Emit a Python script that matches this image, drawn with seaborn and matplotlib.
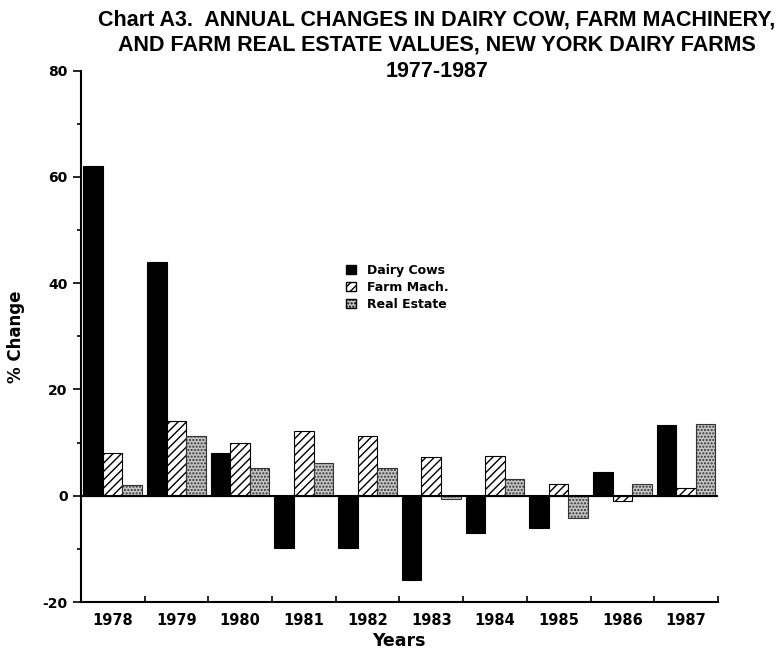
"""Chart A3 — variaciones anuales de vacas, maquinaria y bienes raíces (NY, 1977-1987)."""
import matplotlib
matplotlib.use("Agg")
import matplotlib.pyplot as plt
import numpy as np
import pandas as pd
import seaborn as sns
from matplotlib.patches import Patch

years = ["1978", "1979", "1980", "1981", "1982", "1983", "1984", "1985", "1986", "1987"]
dairy_cows = [62.0, 44.0, 8.0, -9.8, -9.8, -15.9, -7.0, -6.1, 4.5, 13.4]
farm_mach = [8.0, 14.0, 9.9, 12.2, 11.2, 7.2, 7.4, 2.2, -0.9, 1.4]
real_estate = [2.0, 11.2, 5.3, 6.1, 5.3, -0.6, 3.2, -4.2, 2.3, 13.5]
series = ["Dairy Cows", "Farm Mach.", "Real Estate"]

df = pd.DataFrame({
    "year": years * 3,
    "series": np.repeat(series, len(years)),
    "value": dairy_cows + farm_mach + real_estate,
})

sns.set_style("ticks")
plt.rcParams["font.family"] = ["DejaVu Sans"]
plt.rcParams["hatch.linewidth"] = 1.0
plt.rcParams["axes.unicode_minus"] = False
for k in ("text.color", "axes.labelcolor", "xtick.color", "ytick.color", "axes.edgecolor"):
    plt.rcParams[k] = "black"

fig = plt.figure(figsize=(7.77, 6.53), dpi=100)
ax = fig.add_axes([0.104, 0.078, 0.82, 0.814])

colors = {"Dairy Cows": "black", "Farm Mach.": "white", "Real Estate": "#c4c4c4"}
hatches = {"Dairy Cows": "", "Farm Mach.": "////", "Real Estate": "....."}
sns.barplot(data=df, x="year", y="value", hue="series", hue_order=series,
            palette=colors, width=0.92, ax=ax, legend=False,
            edgecolor="black", linewidth=0.8, saturation=1)
for cont, s in zip(ax.containers, series):
    for bar in cont:
        bar.set_hatch(hatches[s])
        if s == "Real Estate":
            bar.set_edgecolor("#333333")

ax.axhline(0, color="black", lw=1.5, zorder=5)
ax.set_xlim(-0.5, 9.5); ax.set_ylim(-20, 80)
ax.set_yticks(range(-20, 81, 20))
ax.set_yticks(range(-10, 80, 20), minor=True)
ax.set_xticks(np.arange(-0.5, 10, 1), minor=True)
ax.tick_params(axis="x", which="major", length=0, pad=8)
ax.tick_params(axis="x", which="minor", direction="in", length=4, width=1.2)
ax.tick_params(axis="y", which="major", length=6, width=1.2)
ax.tick_params(axis="y", which="minor", length=3, width=1.2)
for lab in ax.get_xticklabels():
    lab.set_fontweight("bold"); lab.set_fontsize(10.5)
for lab in ax.get_yticklabels():
    lab.set_fontweight("bold"); lab.set_fontsize(10)
sns.despine(ax=ax)
for sp in ("left", "bottom"):
    ax.spines[sp].set_linewidth(1.5)

ax.set_xlabel("Years", fontsize=12.5, fontweight="bold", labelpad=3)
ax.set_ylabel("% Change", fontsize=12, fontweight="bold")
ax.yaxis.set_label_coords(-0.088, 0.5)

fig.text(0.562, 0.986,
         "Chart A3.  ANNUAL CHANGES IN DAIRY COW, FARM MACHINERY,\n"
         "AND FARM REAL ESTATE VALUES, NEW YORK DAIRY FARMS\n1977-1987",
         ha="center", va="top", fontsize=15.5, fontweight="bold", linespacing=1.3,
         family=["Liberation Sans Narrow", "Liberation Sans", "DejaVu Sans"])

handles = [Patch(facecolor=colors[s], edgecolor="black", hatch=hatches[s]) for s in series]
ax.legend(handles, series, loc="upper left", bbox_to_anchor=(340 / 777, 1 - 258 / 653),
          bbox_transform=fig.transFigure, frameon=False,
          handlelength=0.75, handleheight=0.75, handletextpad=0.9, labelspacing=0.3,
          borderpad=0, prop={"weight": "bold", "size": 9})

fig.savefig("out.png", dpi=100)
plt.close(fig)
